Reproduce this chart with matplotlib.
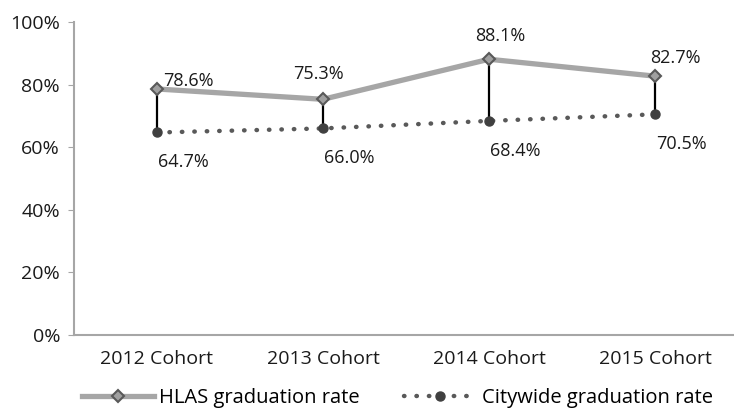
import matplotlib
matplotlib.use('Agg')
import matplotlib.pyplot as plt

# Data
cohorts = ['2012 Cohort', '2013 Cohort', '2014 Cohort', '2015 Cohort']
hlas = [78.6, 75.3, 88.1, 82.7]
citywide = [64.7, 66.0, 68.4, 70.5]
yticks = [0, 20, 40, 60, 80, 100]

plt.rcParams['font.family'] = ['Open Sans', 'DejaVu Sans']
plt.rcParams['font.size'] = 14

fig = plt.figure(figsize=(7.34, 4.09), dpi=100)
ax = fig.add_axes([74 / 734, 1 - 335 / 409, 664 / 734, 313 / 409])

x = range(len(cohorts))

# high-low lines
ax.vlines(x, citywide, hlas, color='black', lw=1.6, zorder=2)

ax.plot(x, citywide, color='#595959', lw=3.2, ls=(0, (0.1, 2.7)),
        dash_capstyle='round', marker='o', ms=6.5, mfc='#404040', mec='#404040',
        zorder=3, label='Citywide graduation rate')
ax.plot(x, hlas, color='#A6A6A6', lw=3.8, marker='D', ms=6.5,
        mfc='#A0A0A0', mec='#595959', mew=1.5, zorder=4,
        label='HLAS graduation rate')

# labels
hl_off = [(31, 8), (-5, 25), (11, 23), (20, 18)]
for i, v in enumerate(hlas):
    dx, dy = hl_off[i]
    ax.annotate(f'{v:.1f}%', (i, v), xytext=(dx, dy), textcoords='offset pixels',
                ha='center', va='center', color='#1a1a1a', fontsize=13)
for i, v in enumerate(citywide):
    ax.annotate(f'{v:.1f}%', (i, v), xytext=(26, -30), textcoords='offset pixels',
                ha='center', va='center', color='#1a1a1a', fontsize=13)

ax.set_xlim(-0.5, 3.5)
ax.set_ylim(0, 100)
ax.set_yticks(yticks)
ax.set_yticklabels([f'{t}%' for t in yticks])
ax.set_xticks(list(x))
ax.set_xticklabels(cohorts)
for s in ['top', 'right']:
    ax.spines[s].set_visible(False)
for s in ['left', 'bottom']:
    ax.spines[s].set_color('#A6A6A6')
    ax.spines[s].set_linewidth(1.5)
ax.tick_params(axis='y', length=4, color='#A6A6A6', pad=6, colors='#1a1a1a')
ax.tick_params(axis='x', length=0, pad=11, colors='#1a1a1a')

h, l = ax.get_legend_handles_labels()
fig.legend(h[::-1], l[::-1], loc='center', bbox_to_anchor=(0.541, 0.027), ncol=2,
           frameon=False, fontsize=14.5, handlelength=3.6, columnspacing=2.2,
           handletextpad=0.25)

fig.savefig('out.png', dpi=100)
